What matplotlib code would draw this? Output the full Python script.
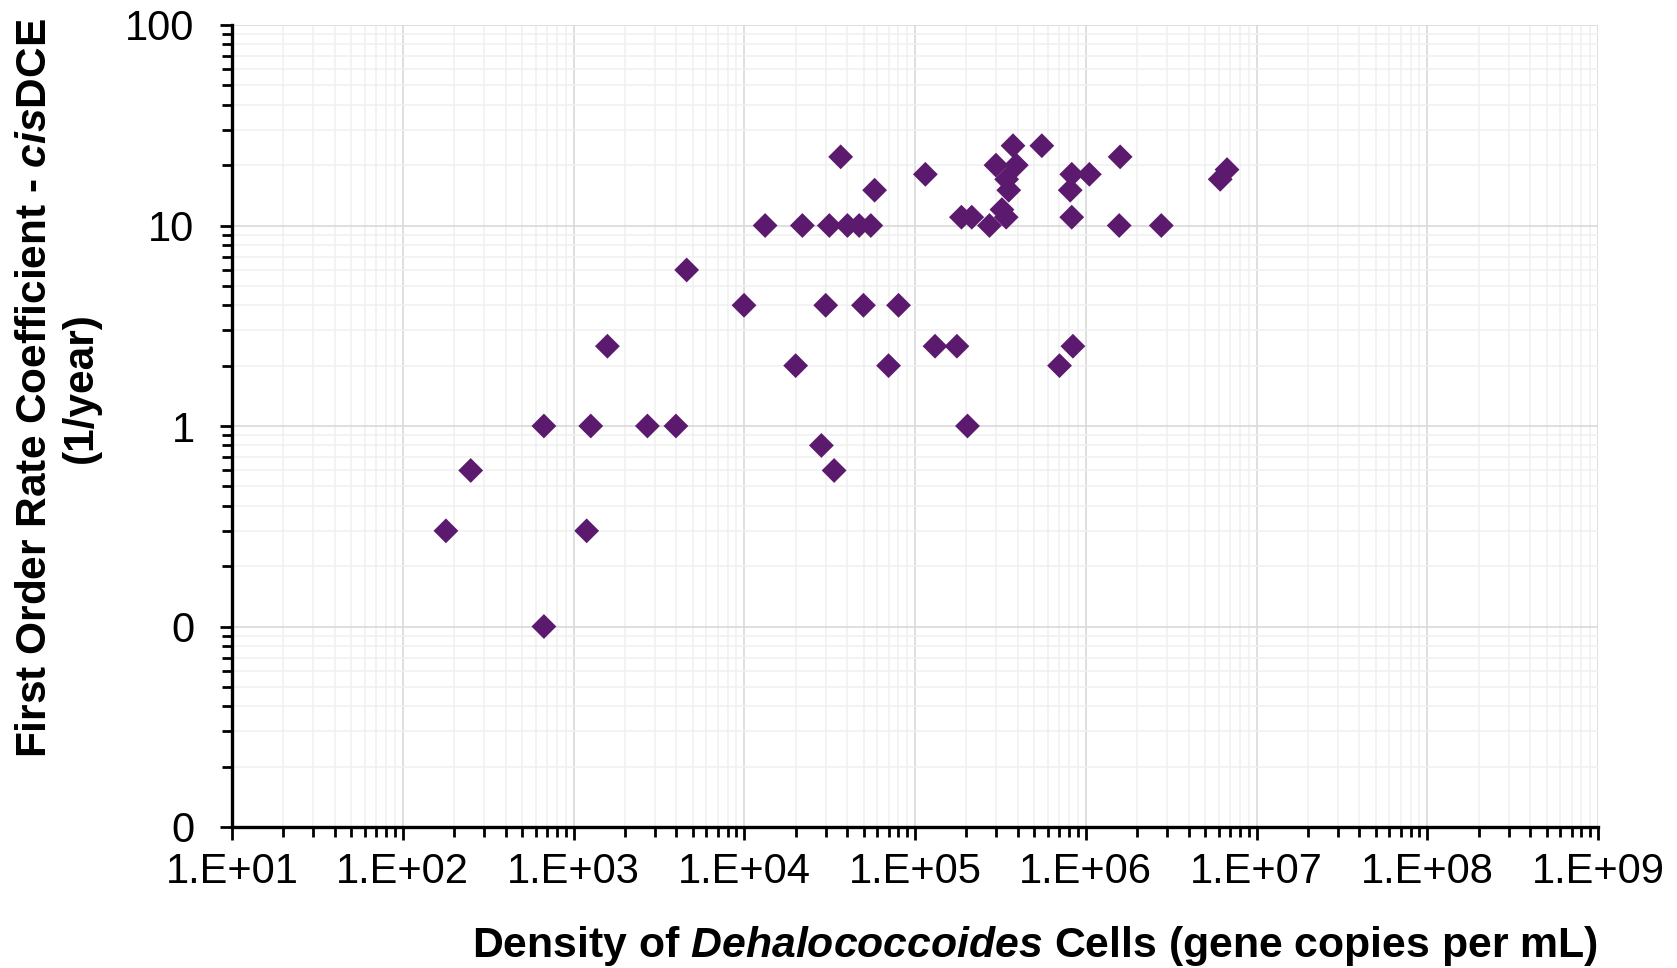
import matplotlib
matplotlib.use("Agg")
import matplotlib.pyplot as plt
from matplotlib.ticker import LogLocator, FuncFormatter, NullFormatter

plt.rcParams['font.family'] = ['Liberation Sans', 'DejaVu Sans']
plt.rcParams['mathtext.fontset'] = 'custom'
plt.rcParams['mathtext.rm'] = 'Liberation Sans:bold'
plt.rcParams['mathtext.bf'] = 'Liberation Sans:bold'
plt.rcParams['mathtext.it'] = 'Liberation Sans:bold:italic'

# Dehalococcoides density (gene copies/mL) vs first order rate coefficient (1/yr)
cells = [179, 250, 671, 671, 1194, 1262, 1580, 2710, 3980, 4600,
         9970, 13250, 20000, 21900, 28300, 30000, 31500, 33600, 36700, 40200,
         47100, 49900, 55100, 58000, 70000, 80100, 115000, 131000, 176000, 187000,
         203000, 215000, 273000, 298000, 323000, 342000, 344000, 354000, 375000, 392000,
         553000, 702000, 811000, 828000, 828000, 841000, 1050000, 1590000, 1570000, 2770000,
         6130000, 6720000]
rate = [0.3, 0.6, 1, 0.1, 0.3, 1, 2.5, 1, 1, 6,
        4, 10, 2, 10, 0.8, 4, 10, 0.6, 22, 10,
        10, 4, 10, 15, 2, 4, 18, 2.5, 2.5, 11,
        1, 11, 10, 20, 12, 11, 17, 15, 25, 20,
        25, 2, 15, 18, 11, 2.5, 18, 22, 10, 10,
        17, 19]

fig = plt.figure(figsize=(16.77, 9.68), dpi=100)
ax = fig.add_axes([232/1677, 1 - 827/968, (1598 - 232)/1677, (827 - 25)/968])

ax.scatter(cells, rate, marker='D', s=160, color='#5c1a6e', edgecolors='none', zorder=3)

ax.set_xscale('log')
ax.set_yscale('log')
ax.set_xlim(1e1, 1e9)
ax.set_ylim(1e-2, 1e2)

ax.xaxis.set_major_locator(LogLocator(base=10, numticks=20))
ax.xaxis.set_minor_locator(LogLocator(base=10, subs=range(2, 10), numticks=100))
ax.yaxis.set_major_locator(LogLocator(base=10, numticks=20))
ax.yaxis.set_minor_locator(LogLocator(base=10, subs=range(2, 10), numticks=100))
ax.xaxis.set_major_formatter(FuncFormatter(lambda v, p: f"{v:.0E}".replace('E', '.E')))
ax.yaxis.set_major_formatter(FuncFormatter(lambda v, p: f"{v:.0f}"))
ax.xaxis.set_minor_formatter(NullFormatter())
ax.yaxis.set_minor_formatter(NullFormatter())

ax.grid(which='major', color='#d9d9d9', linewidth=1.2, zorder=0)
ax.grid(which='minor', color='#f0f0f0', linewidth=1.1, zorder=0)
ax.set_axisbelow(True)

for s in ['top', 'right']:
    ax.spines[s].set_visible(False)
for s in ['left', 'bottom']:
    ax.spines[s].set_linewidth(2.4)

ax.tick_params(which='major', direction='out', length=9, width=2, labelsize=30)
ax.tick_params(which='minor', direction='out', length=7, width=2)
ax.tick_params(axis='y', which='major', pad=18)
ax.tick_params(axis='x', which='major', pad=9)

fig.text(1598/1677, 1 - 946/968, r"Density of $\mathit{Dehalococcoides}$ Cells (gene copies per mL)",
         ha='right', va='center', fontsize=30.8, fontweight='bold')
fig.text(58/1677, 1 - 388/968, "First Order Rate Coefficient - $\\mathit{cis}$DCE\n(1/year)",
         ha='center', va='center', rotation=90, fontsize=30.5, fontweight='bold',
         multialignment='center', linespacing=1.2)

fig.savefig('out.png', dpi=100)
